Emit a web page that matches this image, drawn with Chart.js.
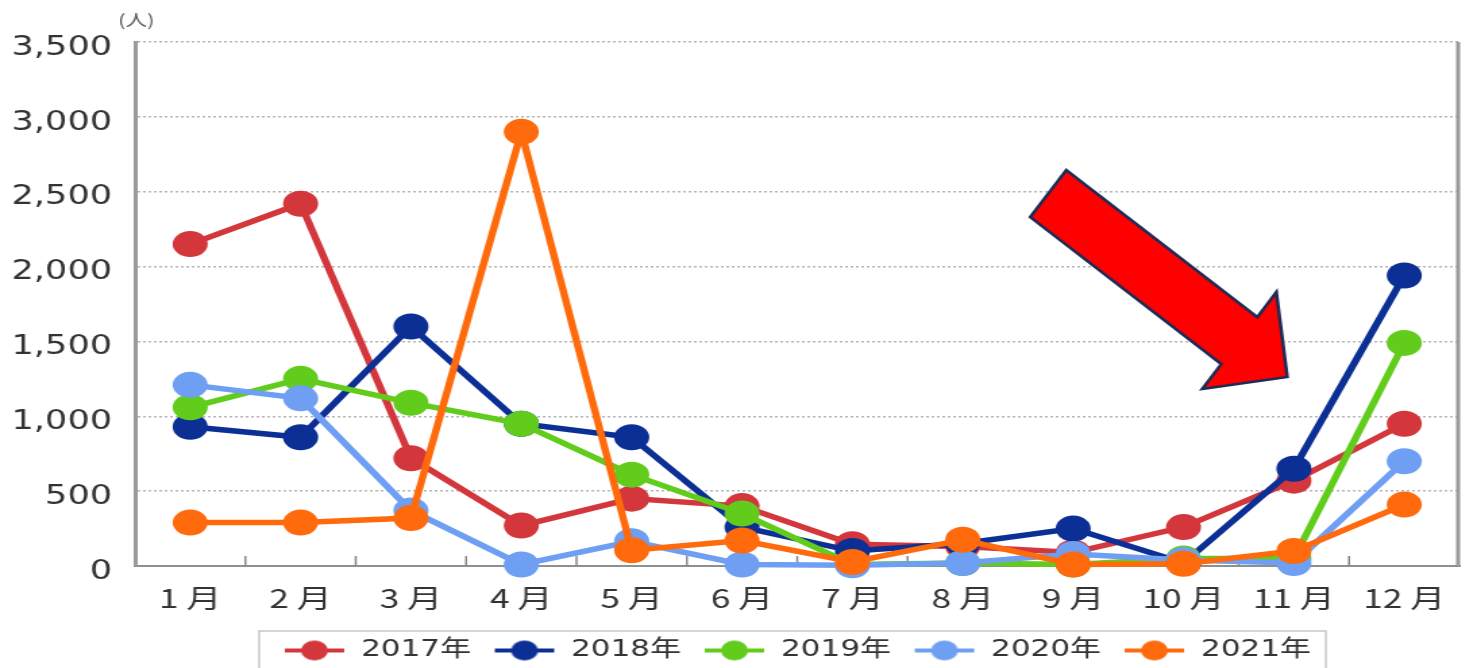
<!DOCTYPE html>
<html>
<head>
<meta charset="utf-8">
<script src="https://cdn.jsdelivr.net/npm/chart.js@4/dist/chart.umd.min.js"></script>
<style>
  body { margin: 0; background: #fff; overflow: hidden; }
  /* the reference picture is stretched sideways, so the canvas is drawn narrow and widened */
  #chart { display: block; width: 1477px !important; height: 668px !important; }
</style>
</head>
<body>
<canvas id="chart" width="1094" height="668"></canvas>
<script>
var months = ['1 月', '2 月', '3 月', '4 月', '5 月', '6 月', '7 月', '8 月', '9 月', '10 月', '11 月', '12 月'];
var yearNames = ['2017年', '2018年', '2019年', '2020年', '2021年'];
var v2017 = [2150, 2420, 720, 270, 450, 400, 145, 130, 90, 260, 570, 950];
var v2018 = [930, 860, 1600, 950, 860, 260, 100, 150, 250, 20, 650, 1940];
var v2019 = [1060, 1250, 1090, 950, 610, 350, 10, 20, 10, 50, 50, 1490];
var v2020 = [1210, 1120, 370, 10, 165, 10, 5, 20, 80, 40, 20, 700];
var v2021 = [290, 290, 320, 2900, 105, 170, 27, 175, 10, 15, 100, 410];
var yTicks = [0, 500, 1000, 1500, 2000, 2500, 3000, 3500];
var colors = ['#d3373c', '#0b2f95', '#62cc1c', '#6e9ff2', '#ff6a0c'];

// legend marker: a short line with a dot on it
function makeMarker(color) {
    var c = document.createElement('canvas');
    c.width = 46; c.height = 24;
    var g = c.getContext('2d');
    g.strokeStyle = color; g.lineWidth = 4;
    g.beginPath(); g.moveTo(1, 12); g.lineTo(45, 12); g.stroke();
    g.fillStyle = color;
    g.beginPath(); g.arc(23, 12, 10, 0, Math.PI * 2); g.fill();
    return c;
}
var markers = colors.map(makeMarker);

var extras = {
    id: 'extras',
    beforeDatasetsDraw: function (chart) {
        var ctx = chart.ctx, a = chart.chartArea, x = chart.scales.x;
        ctx.save();
        // right frame line
        ctx.strokeStyle = '#9a9a9a'; ctx.lineWidth = 3;
        ctx.beginPath(); ctx.moveTo(a.right - 1, a.top); ctx.lineTo(a.right - 1, a.bottom); ctx.stroke();
        // small ticks between months, pointing up
        ctx.lineWidth = 1.5; ctx.strokeStyle = '#888';
        for (var i = 1; i < months.length; i++) {
            var px = x.getPixelForValue(i - 0.5);
            ctx.beginPath(); ctx.moveTo(px, a.bottom); ctx.lineTo(px, a.bottom - 10); ctx.stroke();
        }
        // unit
        ctx.fillStyle = '#555';
        ctx.font = '16px "Noto Sans CJK JP"';
        ctx.textAlign = 'center'; ctx.textBaseline = 'middle';
        ctx.fillText('(人)', a.left + 1, 20);
        ctx.restore();
    },
    afterDraw: function (chart) {
        var ctx = chart.ctx;
        // arrow pointing at November
        var tx = chart.scales.x.getPixelForValue(9.94);
        var ty = chart.scales.y.getPixelForValue(1262);
        var pts = [[-163.7, -207], [-190.4, -160], [-48.9, -13], [-63, 12], [0, 0], [-8.1, -85], [-22.2, -60]];
        ctx.save();
        ctx.beginPath();
        pts.forEach(function (p, i) {
            if (i == 0) ctx.moveTo(tx + p[0], ty + p[1]); else ctx.lineTo(tx + p[0], ty + p[1]);
        });
        ctx.closePath();
        ctx.fillStyle = '#ff0000'; ctx.fill();
        ctx.strokeStyle = '#1d2b55'; ctx.lineWidth = 2.5; ctx.lineJoin = 'miter'; ctx.stroke();
        // legend frame
        var boxes = chart.legend.legendHitBoxes;
        if (boxes && boxes.length) {
            var l = boxes[0].left - 18, r = boxes[boxes.length - 1].left + boxes[boxes.length - 1].width + 11;
            ctx.strokeStyle = '#c8c8c8'; ctx.lineWidth = 1.5;
            ctx.strokeRect(l, 631, r - l, 50);
        }
        ctx.restore();
    }
};

function series(label, data, i, order) {
    return {
        label: label, data: data, order: order,
        borderColor: colors[i], backgroundColor: colors[i],
        pointBackgroundColor: colors[i], pointBorderColor: colors[i],
        borderWidth: 5.5, pointRadius: 13, pointBorderWidth: 0,
        tension: 0, clip: false
    };
}

var ctx = document.getElementById('chart').getContext('2d');
var myChart = new Chart(ctx, {
    type: 'line',
    data: {
        labels: months,
        datasets: [
            series(yearNames[0], v2017, 0, 5),
            series(yearNames[1], v2018, 1, 4),
            series(yearNames[2], v2019, 2, 3),
            series(yearNames[3], v2020, 3, 2),
            series(yearNames[4], v2021, 4, 1)
        ]
    },
    options: {
        responsive: false,
        animation: false,
        devicePixelRatio: 1,
        layout: { padding: { top: 42, right: 8, left: 0, bottom: -4 } },
        plugins: {
            tooltip: { enabled: false },
            legend: {
                position: 'bottom',
                fullSize: false,
                labels: {
                    usePointStyle: true,
                    pointStyleWidth: 46,
                    padding: 16.5,
                    color: '#333',
                    font: { family: '"DejaVu Sans", "Noto Sans CJK JP"', size: 23 },
                    sort: function (a, b) { return a.datasetIndex - b.datasetIndex; },
                    generateLabels: function (chart) {
                        var items = Chart.defaults.plugins.legend.labels.generateLabels(chart);
                        items.forEach(function (it) { it.pointStyle = markers[it.datasetIndex]; });
                        return items;
                    }
                }
            }
        },
        scales: {
            x: {
                offset: true,
                grid: { display: false, offset: true },
                border: { display: true, color: '#8f8f8f', width: 2 },
                ticks: {
                    color: '#333', padding: 9, maxRotation: 0, autoSkip: false,
                    font: { family: '"Noto Sans CJK JP"', size: 26 }
                },
                afterFit: function (s) { s.height = 56.5; }
            },
            y: {
                min: 0, max: 3500,
                afterBuildTicks: function (s) { s.ticks = yTicks.map(function (v) { return { value: v }; }); },
                afterFit: function (s) { s.width = 100; },
                grid: { color: '#b5b5b5', lineWidth: 1.5, tickLength: 0 },
                border: { display: true, color: '#9a9a9a', width: 3, dash: [2, 2] },
                ticks: {
                    color: '#333', padding: 17, labelOffset: 6,
                    font: { family: '"DejaVu Sans"', size: 26 },
                    callback: function (v) { return v.toLocaleString('en-US'); }
                }
            }
        }
    },
    plugins: [extras]
});
</script>
</body>
</html>
